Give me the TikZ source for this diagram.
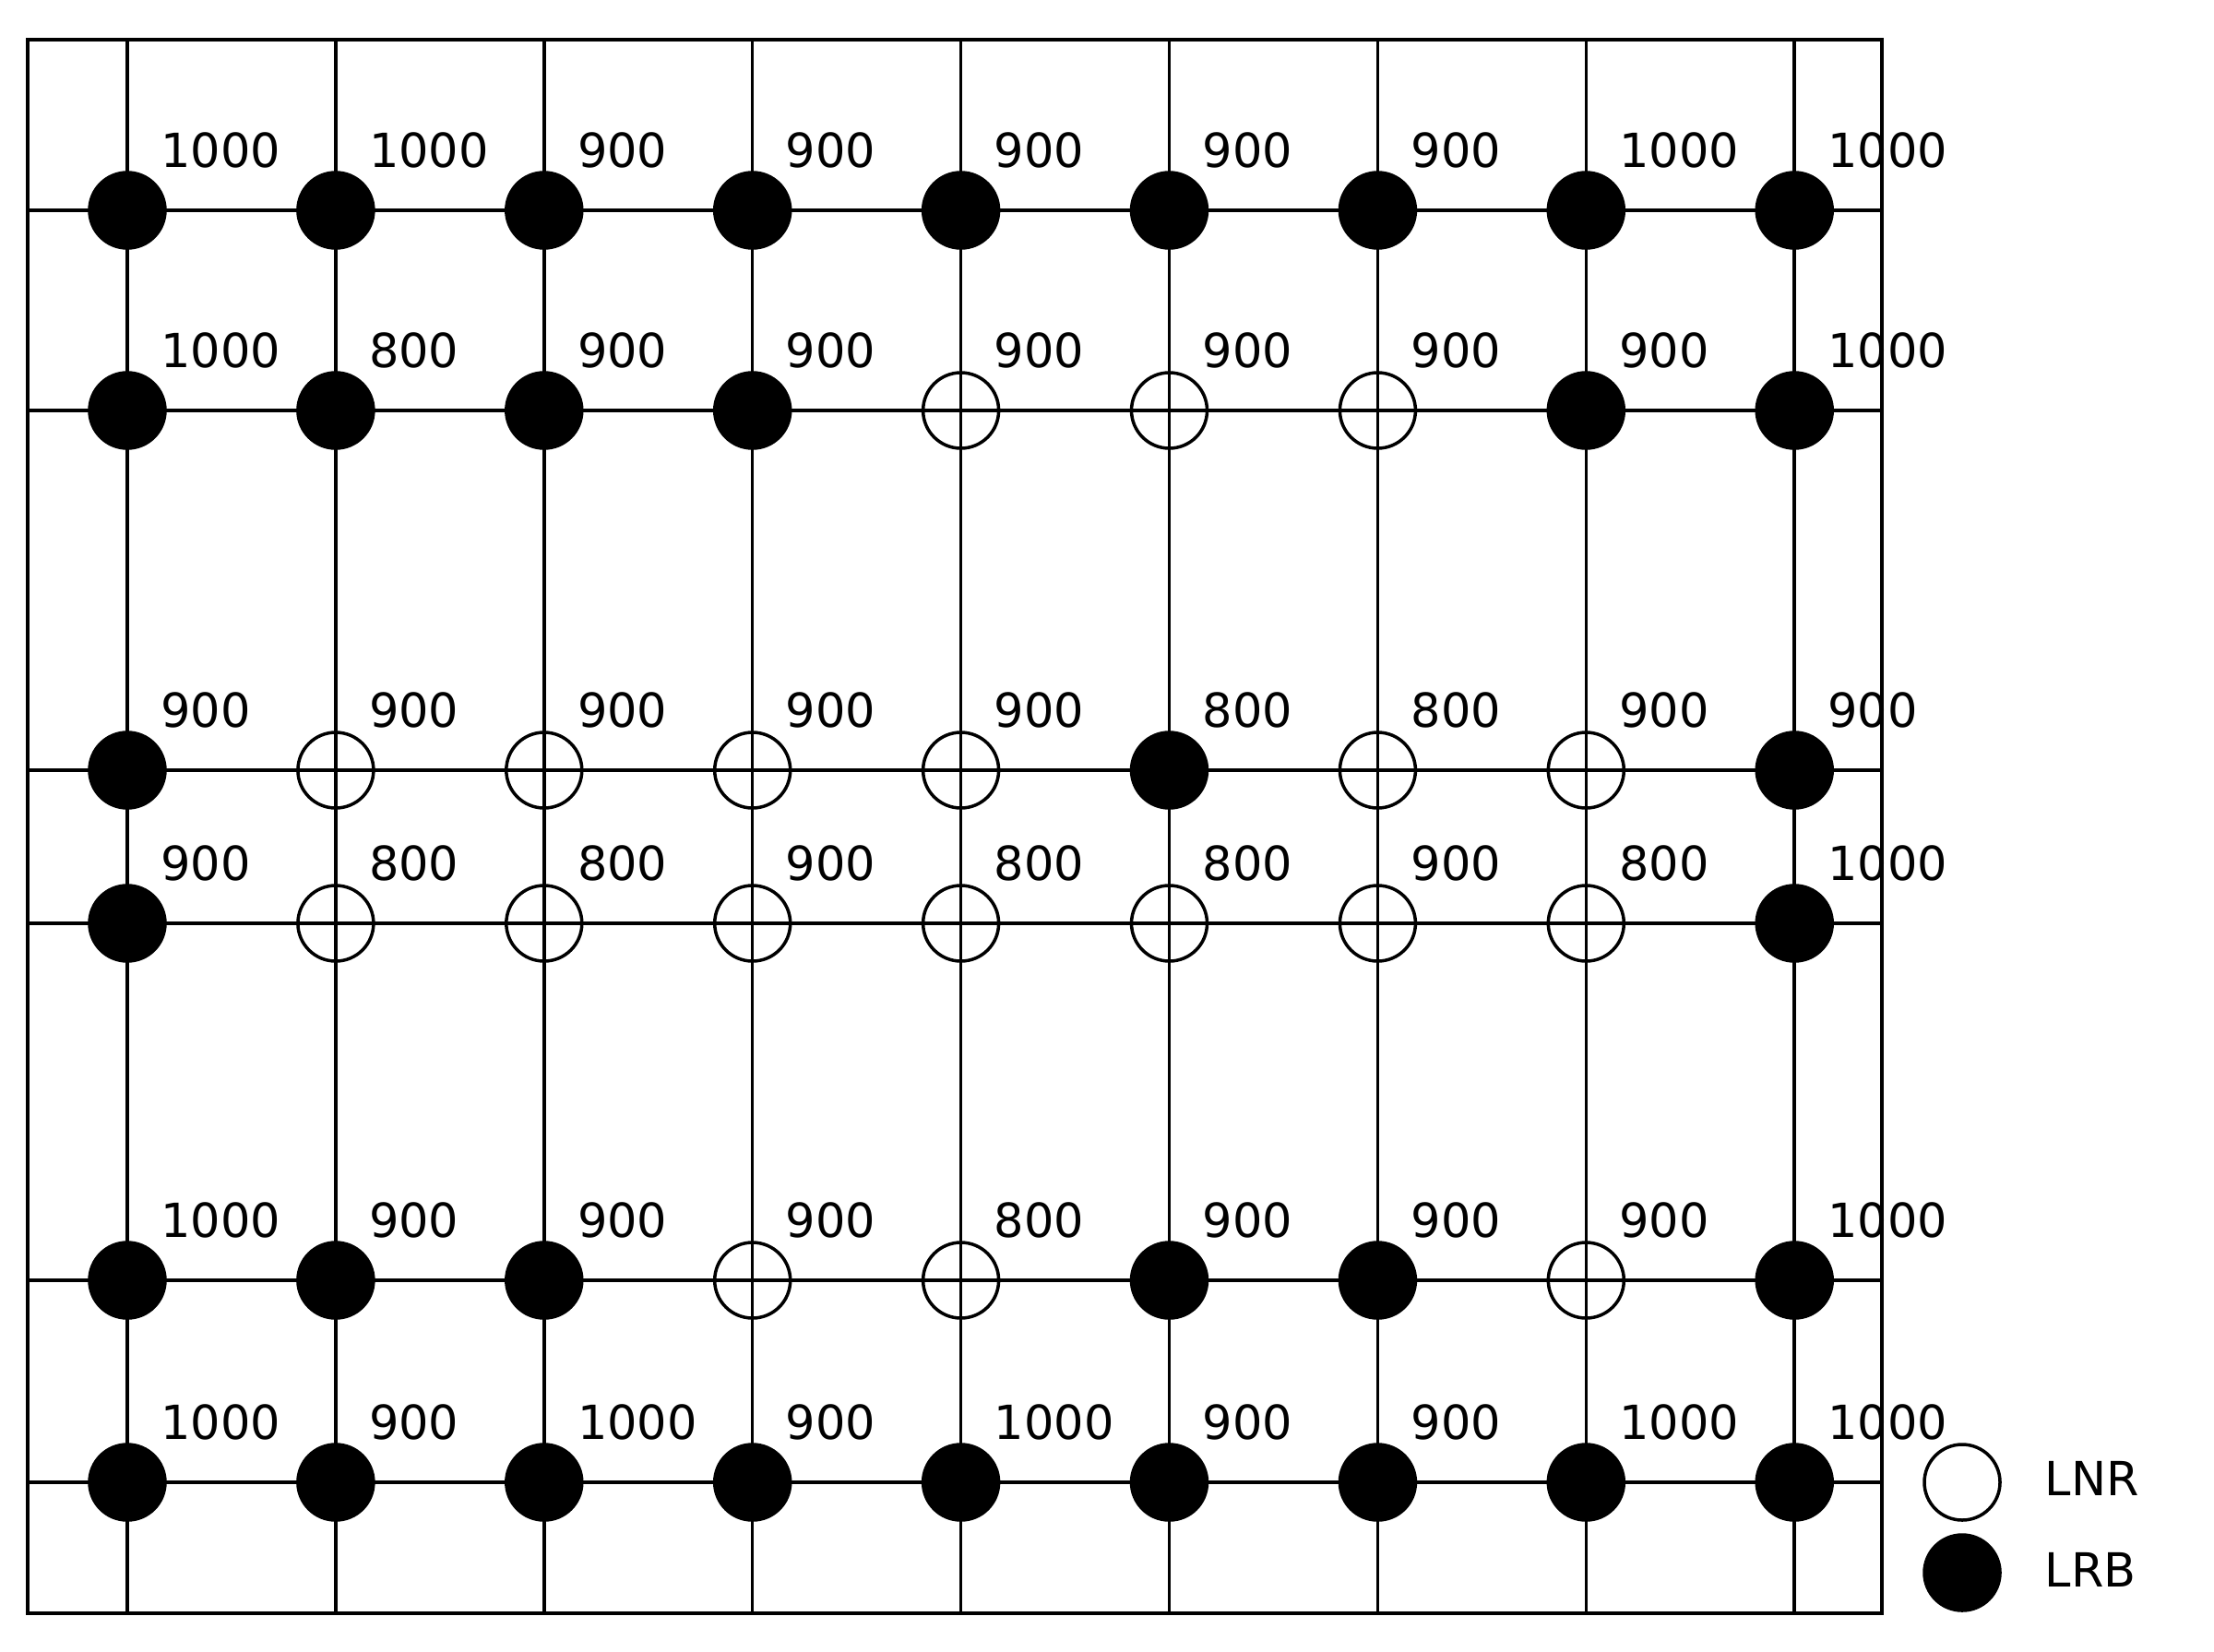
\documentclass[tikz,border=0pt]{standalone}
\usepackage{fontspec}
\setmainfont{DejaVu Sans}
\usepackage{tikz}
\tikzstyle{gridline}=[line width=1pt]
\tikzstyle{vertex}=[draw,shape=circle,line width=1pt,minimum size=0.82cm,inner sep=0pt]
\tikzstyle{lrb}=[vertex,fill=black]
\tikzstyle{lnr}=[vertex]
\tikzstyle{val}=[anchor=west,inner sep=0pt,font=\fontsize{14.5}{17}\selectfont]

\begin{document}
\begin{tikzpicture}
		\useasboundingbox (0,0) rectangle (24,-17.9);
		\draw[gridline] (0.30,-0.43) rectangle (20.40,-17.49);

		\foreach \r / \y in {1/-2.28,2/-4.45,3/-8.35,4/-10.01,5/-13.88,6/-16.07} {
			\coordinate (w\r) at (0.30,\y);
			\coordinate (e\r) at (20.40,\y);
			\draw[gridline] (w\r) -- (e\r);
			\foreach \c in {0,...,8} { \coordinate (p\r\c) at ({1.38+2.259*\c},\y); }
		}
		\foreach \c in {0,...,8} {
			\coordinate (t\c) at ({1.38+2.259*\c},-0.43);
			\coordinate (b\c) at ({1.38+2.259*\c},-17.49);
			\draw[gridline] (t\c) -- (b\c);
		}

		\foreach \r / \c in {1/0,1/1,1/2,1/3,1/4,1/5,1/6,1/7,1/8,2/0,2/1,2/2,2/3,2/7,2/8,3/0,3/5,3/8,4/0,4/8,5/0,5/1,5/2,5/5,5/6,5/8,6/0,6/1,6/2,6/3,6/4,6/5,6/6,6/7,6/8} { \node[lrb] (n\r\c) at (p\r\c) {};}
		\foreach \r / \c in {2/4,2/5,2/6,3/1,3/2,3/3,3/4,3/6,3/7,4/1,4/2,4/3,4/4,4/5,4/6,4/7,5/3,5/4,5/7} { \node[lnr] (n\r\c) at (p\r\c) {};}

		\foreach \r / \vals in {1/{1000,1000,900,900,900,900,900,1000,1000},
				2/{1000,800,900,900,900,900,900,900,1000},
				3/{900,900,900,900,900,800,800,900,900},
				4/{900,800,800,900,800,800,900,800,1000},
				5/{1000,900,900,900,800,900,900,900,1000},
				6/{1000,900,1000,900,1000,900,900,1000,1000}} {
			\foreach \v [count=\c from 0] in \vals { \node[val] (v\r\c) at ([shift={(0.355,0.65)}]p\r\c) {\v};}
		}

%		legend
		\node[lnr] (keyLNR) at (21.27,-16.07) {};
		\node[lrb] (keyLRB) at (21.27,-17.05) {};
		\node[val] (tLNR) at (22.16,-16.03) {LNR};
		\node[val] (tLRB) at (22.16,-17.02) {LRB};
	\end{tikzpicture}
\end{document}
